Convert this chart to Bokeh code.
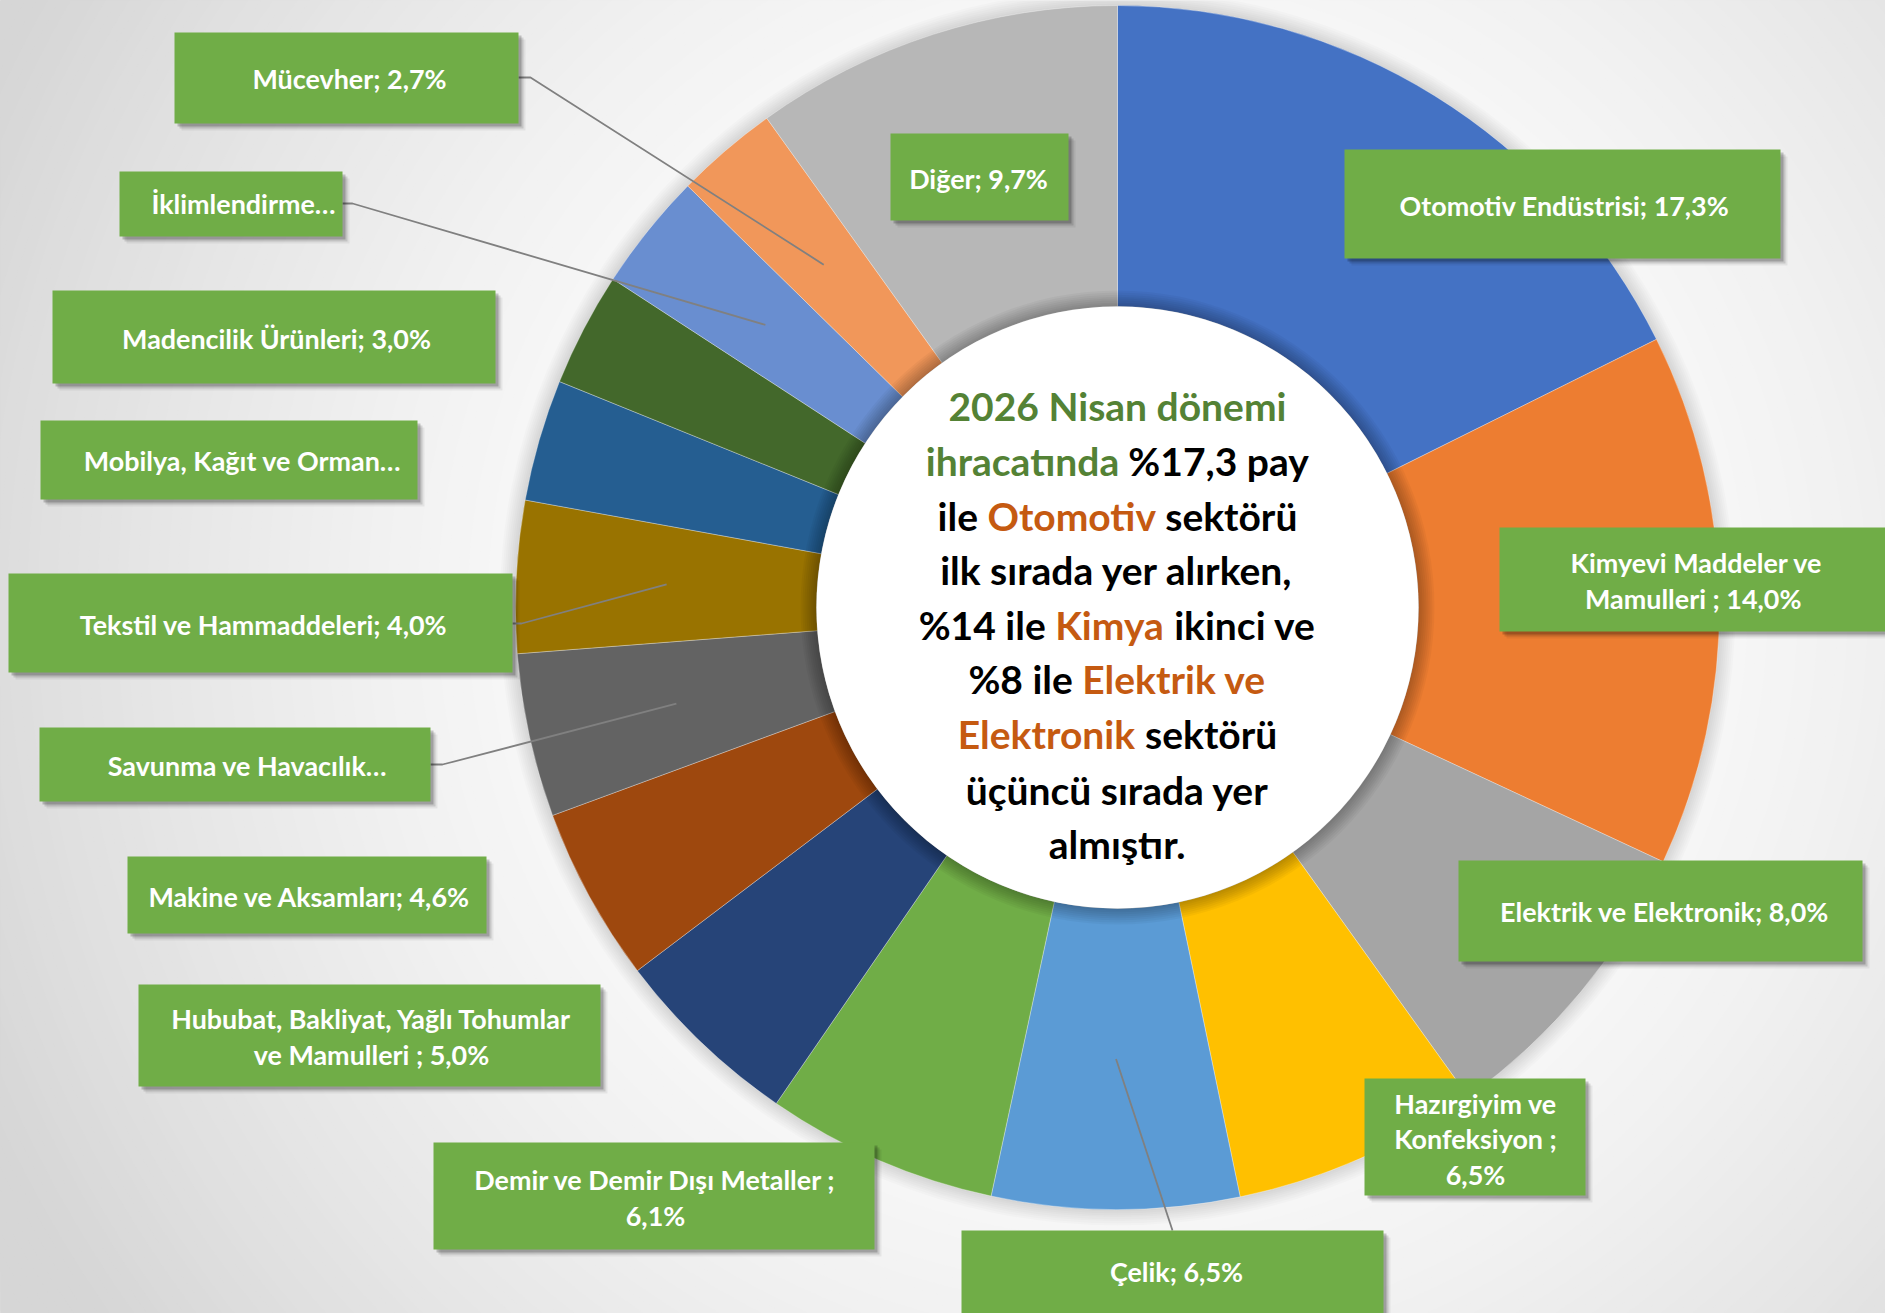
import os, glob, struct
import numpy as np
from bokeh.plotting import figure
from bokeh.models import ColumnDataSource, Range1d
from bokeh.core.properties import value
from bokeh.embed import file_html
from bokeh.resources import INLINE

# ---------------- data ----------------
sectors = ["Otomotiv Endüstrisi", "Kimyevi Maddeler ve Mamulleri", "Elektrik ve Elektronik",
           "Hazırgiyim ve Konfeksiyon", "Çelik", "Demir ve Demir Dışı Metaller",
           "Hububat, Bakliyat, Yağlı Tohumlar ve Mamulleri", "Makine ve Aksamları",
           "Savunma ve Havacılık", "Tekstil ve Hammaddeleri", "Mobilya, Kağıt ve Orman",
           "Madencilik Ürünleri", "İklimlendirme", "Mücevher", "Diğer"]
shares = [17.3, 14.0, 8.0, 6.5, 6.5, 6.1, 5.0, 4.6, 4.3, 4.0, 3.2, 3.0, 3.1, 2.7, 9.7]
slice_colors = ["#4472C4", "#ED7D31", "#A5A5A5", "#FFC000", "#5B9BD5", "#70AD47", "#264478",
                "#9E480E", "#636363", "#997300", "#255E91", "#43682B", "#698ED0", "#F1975A", "#B7B7B7"]
label_lines = [
    ["Otomotiv Endüstrisi; 17,3%"],
    ["Kimyevi Maddeler ve", "Mamulleri  ; 14,0%"],
    ["Elektrik ve Elektronik; 8,0%"],
    ["Hazırgiyim ve", "Konfeksiyon ;", "6,5%"],
    ["Çelik; 6,5%"],
    ["Demir ve Demir Dışı Metaller ;", "6,1%"],
    ["Hububat, Bakliyat, Yağlı Tohumlar", "ve Mamulleri ; 5,0%"],
    ["Makine ve Aksamları; 4,6%"],
    ["Savunma ve Havacılık…"],
    ["Tekstil ve Hammaddeleri; 4,0%"],
    ["Mobilya, Kağıt ve Orman…"],
    ["Madencilik Ürünleri; 3,0%"],
    ["İklimlendirme…"],
    ["Mücevher; 2,7%"],
    ["Diğer; 9,7%"],
]
GREEN_T, ORANGE_T, BLACK_T = "#548235", "#C55A11", "#000000"
center_lines = [
    [("2026 Nisan dönemi", GREEN_T)],
    [("ihracatında", GREEN_T), ("%17,3 pay", BLACK_T)],
    [("ile", BLACK_T), ("Otomotiv", ORANGE_T), ("sektörü", BLACK_T)],
    [("ilk sırada yer alırken,", BLACK_T)],
    [("%14 ile", BLACK_T), ("Kimya", ORANGE_T), ("ikinci ve", BLACK_T)],
    [("%8 ile", BLACK_T), ("Elektrik ve", ORANGE_T)],
    [("Elektronik", ORANGE_T), ("sektörü", BLACK_T)],
    [("üçüncü sırada yer", BLACK_T)],
    [("almıştır.", BLACK_T)],
]

# ---------------- layout (reference pixel coords, y downwards) ----------------
REF_W, REF_H = 1885, 1313
CX, CY = 1117, 607
R_OUT, R_IN = 602, 301
label_boxes = [  # left, top, right, bottom
    (1344, 149, 1780, 258), (1499, 527, 1893, 631), (1458, 860, 1862, 961),
    (1364, 1078, 1585, 1195), (961, 1230, 1383, 1320), (433, 1142, 874, 1249),
    (138, 984, 600, 1086), (127, 856, 486, 933), (39, 727, 430, 801),
    (8, 573, 512, 672), (40, 420, 417, 499), (52, 290, 495, 383),
    (119, 171, 342, 236), (174, 32, 518, 123), (890, 133, 1068, 220),
]
label_centers = [
    (1564, 205), (1696, 580), (1664, 911), (1475, 1138), (1176, 1271), (655, 1197),
    (371, 1036), (309, 896), (247, 765), (263, 624), (242, 460), (276, 338),
    (243, 203), (349, 78), (978, 178),
]
LABEL_LINE_GAP = 35.5
leader_anchor = {13: [(518, 77), (530, 77)], 12: [(342, 203), (352, 203)],
                 9: [(512, 623), (521, 623)], 8: [(430, 764), (442, 764)],
                 4: [(1172, 1230)]}
center_line_y = [405, 460, 515, 569, 624, 678, 733, 789, 843]


# ---------------- font metrics (for placing mixed-colour text) ----------------
class TTFWidths:
    def __init__(self, path):
        d = open(path, "rb").read()
        self.d = d
        n = struct.unpack(">H", d[4:6])[0]
        tabs = {}
        for i in range(n):
            tag, _c, off, _l = struct.unpack(">4sIII", d[12 + 16 * i:28 + 16 * i])
            tabs[tag] = off
        head, hhea, hm, cm = tabs[b"head"], tabs[b"hhea"], tabs[b"hmtx"], tabs[b"cmap"]
        self.upm = struct.unpack(">H", d[head + 18:head + 20])[0]
        nhm = struct.unpack(">H", d[hhea + 34:hhea + 36])[0]
        self.adv = [struct.unpack(">H", d[hm + 4 * i:hm + 4 * i + 2])[0] for i in range(nhm)]
        ns = struct.unpack(">H", d[cm + 2:cm + 4])[0]
        self.sub = None
        for i in range(ns):
            pid, eid, off = struct.unpack(">HHI", d[cm + 4 + 8 * i:cm + 12 + 8 * i])
            fmt = struct.unpack(">H", d[cm + off:cm + off + 2])[0]
            if fmt == 4 and (pid == 0 or (pid == 3 and eid == 1)):
                self.sub = cm + off
                break
        if self.sub is None:
            raise ValueError("no cmap")

    def glyph(self, c):
        d, s = self.d, self.sub
        segx2 = struct.unpack(">H", d[s + 6:s + 8])[0]
        ends = s + 14
        starts = ends + segx2 + 2
        deltas = starts + segx2
        ros = deltas + segx2
        for i in range(segx2 // 2):
            end = struct.unpack(">H", d[ends + 2 * i:ends + 2 * i + 2])[0]
            if c <= end:
                start = struct.unpack(">H", d[starts + 2 * i:starts + 2 * i + 2])[0]
                if c < start:
                    return 0
                delta = struct.unpack(">h", d[deltas + 2 * i:deltas + 2 * i + 2])[0]
                ro = struct.unpack(">H", d[ros + 2 * i:ros + 2 * i + 2])[0]
                if ro == 0:
                    return (c + delta) & 0xFFFF
                addr = ros + 2 * i + ro + 2 * (c - start)
                g = struct.unpack(">H", d[addr:addr + 2])[0]
                return (g + delta) & 0xFFFF if g else 0
        return 0

    def em(self, text):
        tot = 0
        for ch in text:
            g = self.glyph(ord(ch))
            tot += self.adv[min(g, len(self.adv) - 1)]
        return tot / self.upm


def find_font(names):
    roots = ["/usr/share/fonts", "/usr/local/share/fonts",
             os.path.expanduser("~/.fonts"), os.path.expanduser("~/.local/share/fonts")]
    for r in roots:
        for nm in names:
            hits = glob.glob(os.path.join(r, "**", nm), recursive=True)
            if hits:
                return hits[0]
    return None


try:
    metrics = TTFWidths(find_font(["Lato-Bold.ttf", "Lato-Bold.otf"]))
    em_width = metrics.em
except Exception:
    em_width = lambda t: 0.55 * len(t)

FONT = "Lato"
center_size = 338.0 / em_width("2026 Nisan dönemi")
label_size = 330.0 / em_width("Otomotiv Endüstrisi; 17,3%")


def Y(yref):
    return REF_H - yref


# ---------------- figure ----------------
p = figure(width=REF_W, height=REF_H, x_range=Range1d(0, REF_W), y_range=Range1d(0, REF_H),
           output_backend="svg", toolbar_location=None, min_border=0)
p.axis.visible = False
p.grid.visible = False
p.outline_line_color = None
p.background_fill_color = "#d6d6d6"
p.border_fill_color = "#d6d6d6"

# background radial gradient
bg_r = np.arange(1340, 470, -10)
t = np.clip((bg_r - 480) / 760.0, 0, 1) ** 1.3
gv = np.round(250 - 36 * t).astype(int)
p.circle(x=CX, y=Y(CY), radius=bg_r, fill_color=["#%02x%02x%02x" % (v, v, v) for v in gv],
         line_color=None)

# soft shadow around the ring
sh_r = R_OUT + np.arange(16, 0, -2)
p.circle(x=CX, y=Y(CY), radius=sh_r, fill_color="black", fill_alpha=0.014, line_color=None)

# slices
frac = np.array(shares) / np.sum(shares)
cum_end = np.cumsum(frac)
cum_start = cum_end - frac
start_ang = np.pi / 2 - 2 * np.pi * cum_end
end_ang = np.pi / 2 - 2 * np.pi * cum_start
mid_ang = (start_ang + end_ang) / 2
src = ColumnDataSource(dict(sector=sectors, share=shares, start=start_ang, end=end_ang,
                            color=slice_colors))
p.annular_wedge(x=CX, y=Y(CY), inner_radius=R_IN, outer_radius=R_OUT, start_angle="start",
                end_angle="end", fill_color="color", line_color="white", line_alpha=0.45,
                line_width=0.7, source=src)

# inner white disc with soft shadow
hs_r = R_IN + np.arange(16, 0, -2)
p.circle(x=CX, y=Y(CY), radius=hs_r, fill_color="black", fill_alpha=0.035, line_color=None)
p.circle(x=CX, y=Y(CY), radius=R_IN, fill_color="white", line_color=None)

# leader lines: from label box to the middle of the ring at the slice's mid angle
r_mid = (R_IN + R_OUT) / 2
lx, ly = [], []
for idx, pts in leader_anchor.items():
    ex = CX + r_mid * np.cos(mid_ang[idx])
    ey = Y(CY) + r_mid * np.sin(mid_ang[idx])
    lx.append([q[0] for q in pts] + [ex])
    ly.append([Y(q[1]) for q in pts] + [ey])
p.multi_line(xs=lx, ys=ly, line_color="#808080", line_width=1.8)

# label boxes with shadows
L = np.array([b[0] for b in label_boxes], dtype=float)
T = np.array([b[1] for b in label_boxes], dtype=float)
R = np.array([b[2] for b in label_boxes], dtype=float)
B = np.array([b[3] for b in label_boxes], dtype=float)
for off, a in [(7, 0.06), (5, 0.12), (3, 0.2)]:
    p.quad(left=L + off, right=R + off, top=Y(T + off), bottom=Y(B + off),
           fill_color="black", fill_alpha=a, line_color=None)
p.quad(left=L, right=R, top=Y(T), bottom=Y(B), fill_color="#70AD47", line_color=None)

# label texts
tx, ty, tt = [], [], []
for lines, (cx, cy) in zip(label_lines, label_centers):
    n = len(lines)
    for k, s in enumerate(lines):
        tx.append(cx)
        ty.append(Y(cy + (k - (n - 1) / 2) * LABEL_LINE_GAP))
        tt.append(s)
p.text(x=tx, y=ty, text=tt, text_font=value(FONT), text_font_style="bold",
       text_font_size=value("%.1fpx" % label_size), text_color="white",
       text_align="center", text_baseline="middle")

# centre text (mixed colours)
space_w = em_width(" ") * center_size
cx_, cy_, ct_, cc_ = [], [], [], []
for segs, yy in zip(center_lines, center_line_y):
    widths = [em_width(s) * center_size for s, _ in segs]
    total = sum(widths) + space_w * (len(segs) - 1)
    x0 = CX - total / 2
    for (s, col), w in zip(segs, widths):
        cx_.append(x0)
        cy_.append(Y(yy))
        ct_.append(s)
        cc_.append(col)
        x0 += w + space_w
csrc = ColumnDataSource(dict(x=cx_, y=cy_, text=ct_, color=cc_))
p.text(x="x", y="y", text="text", text_color="color", source=csrc, text_font=value(FONT),
       text_font_style="bold", text_font_size=value("%.1fpx" % center_size),
       text_align="left", text_baseline="middle")

open("out.html", "w").write(file_html(p, INLINE))
